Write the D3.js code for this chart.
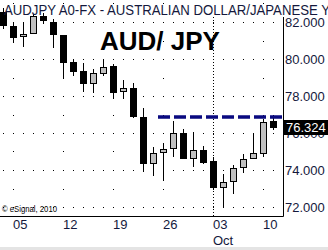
<!DOCTYPE html>
<html><head><meta charset="utf-8">
<script src="https://cdn.jsdelivr.net/npm/d3@7"></script>
<style>
body{margin:0;background:#fff;overflow:hidden}
svg{display:block}
text{font-family:"Liberation Sans",Arial,sans-serif}
</style></head>
<body><svg id="chart" width="328" height="250"></svg>
<script>
// ---- data ----
const dates = ["2010-09-03","2010-09-06","2010-09-07","2010-09-08","2010-09-09","2010-09-10",
  "2010-09-13","2010-09-14","2010-09-15","2010-09-16","2010-09-17",
  "2010-09-20","2010-09-21","2010-09-22","2010-09-23","2010-09-24",
  "2010-09-27","2010-09-28","2010-09-29","2010-09-30","2010-10-01",
  "2010-10-04","2010-10-05","2010-10-06","2010-10-07","2010-10-08",
  "2010-10-11","2010-10-12"];
const openVals  = [82.54,81.78,81.24,81.41,82.32,82.00,81.30,79.84,79.35,78.70,79.24,79.62,78.27,78.43,76.86,74.38,74.97,75.19,76.00,74.65,75.08,74.49,73.08,73.41,74.16,74.65,74.92,76.65];
const highVals  = [82.76,82.00,82.00,82.43,82.49,82.16,81.32,80.00,79.78,79.46,80.00,79.73,78.86,78.70,77.35,75.24,75.46,76.65,76.22,76.05,75.30,74.70,73.78,74.27,74.86,76.00,76.76,76.97];
const lowVals   = [81.62,80.86,80.65,81.35,81.89,80.59,78.97,79.08,78.22,78.16,79.08,77.84,77.84,76.81,73.89,73.68,73.41,74.70,74.60,74.16,74.32,72.92,72.00,72.70,73.84,74.60,74.70,76.16];
const closeVals = [81.84,81.19,81.37,82.32,82.11,81.35,79.84,79.35,78.70,79.24,79.57,78.22,78.43,76.92,74.38,74.92,75.14,76.00,74.65,75.08,74.43,73.08,73.35,74.11,74.59,74.92,76.60,76.324];
const yTickValues = [72,74,76,78,80,82];
const xTickDates  = ["2010-09-06","2010-09-13","2010-09-20","2010-09-27","2010-10-04","2010-10-11"];
const xTickLabels = ["05","12","19","26","03","10"];
const monthDate = "2010-10-04", monthLabel = "Oct";
const lastPrice = 76.324;
const resistanceLevel = 76.86;
const resistanceStart = "2010-09-27";
const titleText = "AUDJPY A0-FX - AUSTRALIAN DOLLAR/JAPANESE Y";
const bigLabel = "AUD/ JPY";
const creditText = "\u00A9 eSignal, 2010";

// ---- layout ----
const W = 328, H = 250;
const plotRight = 283, plotBottom = 216, plotTop = 17;
const svg = d3.select("#chart");
const ink = "#14183c";

const x = d3.scaleBand().domain(dates).range([-1.5, 278.5]).padding(0);
const y = d3.scaleLinear().domain([72, 82]).range([207, 22]);
const cx = d => Math.floor(x(d) + x.bandwidth() / 2) + 0.5;

const defs = svg.append("defs");
defs.append("filter").attr("id","blur").attr("x","-10%").attr("y","-200%").attr("width","120%").attr("height","500%")
  .append("feGaussianBlur").attr("stdDeviation", 1.6);
defs.append("clipPath").attr("id","plotclip").append("rect")
  .attr("x",0).attr("y",0).attr("width",plotRight).attr("height",plotBottom);

// bottom grey strip
svg.append("rect").attr("x",0).attr("y",247).attr("width",W).attr("height",3).attr("fill","#e4e4e4");

// horizontal dotted grid
const g = svg.append("g").attr("clip-path","url(#plotclip)");
g.selectAll("line.hg").data(yTickValues).join("line")
  .attr("x1", 3).attr("x2", plotRight - 2)
  .attr("y1", d => Math.round(y(d)) + 0.5).attr("y2", d => Math.round(y(d)) + 0.5)
  .attr("stroke","#000").attr("stroke-dasharray","1,9");

// vertical dotted grid (dots at every whole level)
const levels = d3.range(71, 84);
xTickDates.filter(d => d !== monthDate).forEach(d => {
  g.selectAll(null).data(levels).join("rect")
    .attr("x", Math.floor(x(d) + x.bandwidth()/2)).attr("y", v => Math.round(y(v)))
    .attr("width",1).attr("height",1).attr("fill","#000");
});
// month separator
g.append("line").attr("x1", cx(monthDate)).attr("x2", cx(monthDate))
  .attr("y1", plotTop).attr("y2", plotBottom)
  .attr("stroke","#000").attr("stroke-dasharray","1,2");

// resistance shadow + dashed line
const rx1 = x(resistanceStart) - 0.5;
g.append("line").attr("x1", rx1 - 2).attr("x2", plotRight + 2)
  .attr("y1", y(resistanceLevel) + 6).attr("y2", y(resistanceLevel) + 6)
  .attr("stroke","#b4b4b4").attr("stroke-width",4).attr("filter","url(#blur)");

// candles
const candles = dates.map((d,i) => ({d, o:openVals[i], h:highVals[i], l:lowVals[i], c:closeVals[i]}));
const cg = g.selectAll("g.c").data(candles).join("g");
cg.append("line")
  .attr("x1", d => cx(d.d)).attr("x2", d => cx(d.d))
  .attr("y1", d => Math.round(y(d.h))).attr("y2", d => Math.round(y(d.l)))
  .attr("stroke","#000");
cg.append("rect")
  .attr("x", d => Math.floor(x(d.d) + x.bandwidth()/2) - 3 + 0.5)
  .attr("width", 6)
  .attr("y", d => Math.round(y(Math.max(d.o,d.c))) + 0.5)
  .attr("height", d => Math.max(1, Math.round(y(Math.min(d.o,d.c))) - Math.round(y(Math.max(d.o,d.c)))))
  .attr("fill", d => d.c >= d.o ? "#c0c0c0" : "#000")
  .attr("stroke","#000");

g.append("line").attr("x1", rx1).attr("x2", plotRight)
  .attr("y1", y(resistanceLevel)).attr("y2", y(resistanceLevel))
  .attr("stroke","#0a0a80").attr("stroke-width",3.5).attr("stroke-dasharray","12,4");

// axes frame
svg.append("line").attr("x1",0).attr("x2",plotRight + 0.5).attr("y1",plotBottom + 0.5).attr("y2",plotBottom + 0.5).attr("stroke","#000");
svg.append("line").attr("x1",plotRight + 0.5).attr("x2",plotRight + 0.5).attr("y1",plotTop).attr("y2",plotBottom + 0.5).attr("stroke","#000");

// right axis
const ya = svg.append("g").attr("transform", `translate(${plotRight},0)`)
  .call(d3.axisRight(y).tickValues(yTickValues).tickSize(0).tickPadding(2).tickFormat(d3.format(".3f")));
ya.select(".domain").remove();
ya.selectAll("text").attr("font-size", 13).attr("fill", ink).attr("font-family",'"Liberation Sans",Arial,sans-serif');

// last price box
svg.append("rect").attr("x", plotRight + 1).attr("y", Math.round(y(lastPrice)) - 7).attr("width", W - plotRight).attr("height", 15).attr("fill","#000");
svg.append("text").attr("x", plotRight + 3).attr("y", y(lastPrice)).attr("dy","0.35em")
  .attr("font-size",13).attr("fill","#fff").text(d3.format(".3f")(lastPrice));

// bottom axis
const xa = svg.append("g").attr("transform", `translate(0,${plotBottom})`)
  .call(d3.axisBottom(x).tickValues(xTickDates).tickSize(0).tickPadding(0)
    .tickFormat(d => xTickLabels[xTickDates.indexOf(d)]));
xa.select(".domain").remove();
xa.selectAll("text").attr("text-anchor","start").attr("dy",0).attr("y",13)
  .attr("x", -0.5).attr("font-size",13).attr("fill",ink).attr("font-family",'"Liberation Sans",Arial,sans-serif');
svg.append("text").attr("x", Math.floor(x(monthDate) + x.bandwidth()/2)).attr("y", 245)
  .attr("font-size",13).attr("fill",ink).text(monthLabel);

// credit
svg.append("text").attr("x",2).attr("y",212).attr("font-size",9).attr("fill","#000")
  .attr("textLength",55).attr("lengthAdjust","spacingAndGlyphs").text(creditText);

// big label
svg.append("text").attr("x",100).attr("y",50).attr("font-size",26).attr("font-weight","bold").attr("fill","#000").text(bigLabel);

// title
svg.append("text").attr("x",4).attr("y",15).attr("font-size",14).attr("fill",ink)
  .attr("textLength",326).attr("lengthAdjust","spacingAndGlyphs").text(titleText);
</script>
</body></html>
